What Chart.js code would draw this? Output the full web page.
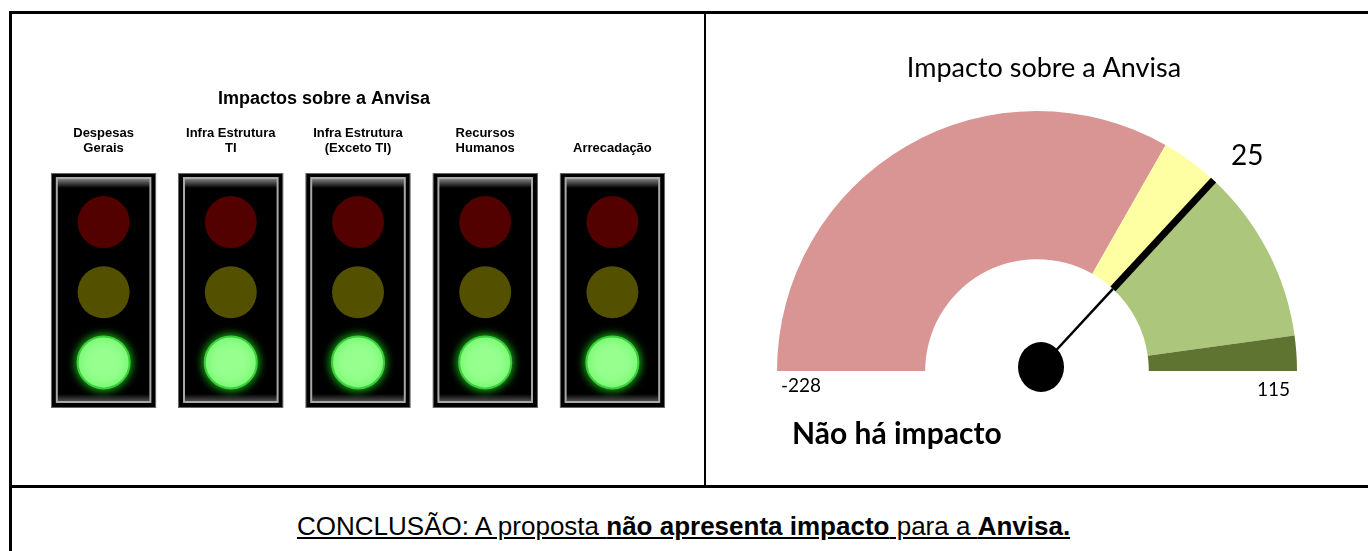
<!DOCTYPE html>
<html>
<head>
<meta charset="utf-8">
<script src="https://cdn.jsdelivr.net/npm/chart.js@4.4.0/dist/chart.umd.min.js"></script>
<style>
  body { margin: 0; background: #fff; width: 1368px; height: 551px; overflow: hidden; position: relative; font-family: "Liberation Sans", Arial, sans-serif; }
  .line { position: absolute; background: #000; }
  #lights { position: absolute; left: 12px; top: 14px; }
  #gauge { position: absolute; left: 706px; top: 13px; }
  #concl { position: absolute; left: 297px; top: 511px; font-size: 26px; line-height: 30px; white-space: nowrap; text-decoration: underline; }
</style>
</head>
<body>
<canvas id="lights" width="692" height="471"></canvas>
<canvas id="gauge" width="662" height="472"></canvas>
<div class="line" style="left:9px;top:11px;width:1359px;height:3px"></div>
<div class="line" style="left:9px;top:11px;width:3px;height:540px"></div>
<div class="line" style="left:704px;top:13px;width:2px;height:473px"></div>
<div class="line" style="left:9px;top:485px;width:1359px;height:3px"></div>
<div id="concl">CONCLUSÃO: A proposta <b>não apresenta impacto</b> para a <b>Anvisa.</b></div>

<script>
// semáforos
const panelTitle = 'Impactos sobre a Anvisa';
const areaLabels = [['Despesas', 'Gerais'], ['Infra Estrutura', 'TI'], ['Infra Estrutura', '(Exceto TI)'], ['Recursos', 'Humanos'], ['Arrecadação']];
const areaStatus = ['verde', 'verde', 'verde', 'verde', 'verde'];
const rowNames = ['verde', 'amarelo', 'vermelho']; // de baixo para cima

// medidor
const gaugeTitle = 'Impacto sobre a Anvisa';
const bandNames = ['Alto impacto', 'Impacto moderado', 'Sem impacto', 'Impacto positivo'];
const bandLimits = [-228, 0, 25, 100, 115];
const gaugeValue = 25;
const gaugeStatus = 'Não há impacto';

const lightOn = { vermelho: '#ff3030', amarelo: '#ffee33', verde: '#96ff8e' };
const lightOff = { vermelho: '#520000', amarelo: '#535000', verde: '#0d3b0d' };
const bandColors = ['#d99594', '#fefea3', '#acc67b', '#5e7430'];

const housingLow = -0.65, housingHigh = 2.70;

// one dataset of unlit lamps per row, plus one dataset with the lit lamp of each area
const offSets = rowNames.map((row, r) => ({
    type: 'line',
    showLine: false,
    data: areaStatus.map(st => (st === row ? null : r)),
    backgroundColor: lightOff[row],
    borderWidth: 0,
    pointRadius: 26,
    pointHoverRadius: 26,
    order: 2
}));

const onSet = {
    type: 'line',
    showLine: false,
    glow: true,
    data: areaStatus.map(st => rowNames.indexOf(st)),
    backgroundColor: areaStatus.map(st => lightOn[st]),
    borderColor: '#3ccf3c',
    borderWidth: 2,
    pointRadius: 26,
    pointHoverRadius: 26,
    order: 1
};

const lightsExtras = {
    id: 'lightsExtras',
    beforeDatasetDraw(chart, args) {
        const ds = chart.data.datasets[args.index];
        if (ds.glow) {
            chart.ctx.save();
            chart.ctx.shadowColor = '#22dd22';
            chart.ctx.shadowBlur = 10;
        }
    },
    afterDatasetDraw(chart, args) {
        const ctx = chart.ctx;
        const ds = chart.data.datasets[args.index];
        if (ds.glow) ctx.restore();
        if (ds.housing) {
            args.meta.data.forEach(bar => {
                const p = bar.getProps(['x', 'y', 'base', 'width'], true);
                const left = p.x - p.width / 2 + 6, right = p.x + p.width / 2 - 6;
                const top = Math.min(p.y, p.base) + 5, bottom = Math.max(p.y, p.base) - 6;
                ctx.save();
                let g = ctx.createLinearGradient(0, top, 0, top + 10);
                g.addColorStop(0, '#8c8c8c');
                g.addColorStop(1, '#000');
                ctx.fillStyle = g;
                ctx.fillRect(left, top, right - left, 10);
                g = ctx.createLinearGradient(0, bottom - 8, 0, bottom);
                g.addColorStop(0, '#000');
                g.addColorStop(1, '#555');
                ctx.fillStyle = g;
                ctx.fillRect(left, bottom - 8, right - left, 8);
                ctx.strokeStyle = '#a8a8a8';
                ctx.lineWidth = 2;
                ctx.strokeRect(left, top, right - left, bottom - top);
                ctx.restore();
            });
        }
    },
    afterDraw(chart) {
        const ctx = chart.ctx, xs = chart.scales.x;
        ctx.save();
        ctx.fillStyle = '#000';
        ctx.textAlign = 'center';
        ctx.textBaseline = 'middle';
        ctx.font = 'bold 18px "Liberation Sans", Arial, sans-serif';
        ctx.fillText(panelTitle, 312, 85);
        ctx.font = 'bold 13px "Liberation Sans", Arial, sans-serif';
        areaLabels.forEach((lines, i) => {
            const x = xs.getPixelForValue(i);
            lines.forEach((t, k) => ctx.fillText(t, x, 134.5 - (lines.length - 1 - k) * 15));
        });
        ctx.restore();
    }
};

new Chart(document.getElementById('lights'), {
    type: 'bar',
    data: {
        labels: areaLabels,
        datasets: [
            {
                housing: true,
                data: areaLabels.map(() => [housingLow, housingHigh]),
                backgroundColor: '#000',
                borderColor: '#666',
                borderWidth: 1,
                borderSkipped: false,
                barPercentage: 0.83,
                categoryPercentage: 1,
                order: 3
            },
            ...offSets,
            onSet
        ]
    },
    options: {
        responsive: false,
        animation: false,
        layout: { padding: { left: 20, right: 14, top: 159, bottom: 77 } },
        scales: {
            x: { display: false },
            y: { display: false, min: housingLow, max: housingHigh }
        },
        plugins: { legend: { display: false }, tooltip: { enabled: false } }
    },
    plugins: [lightsExtras]
});

const gaugeMin = bandLimits[0], gaugeMax = bandLimits[bandLimits.length - 1];
const bandSizes = bandLimits.slice(1).map((v, i) => v - bandLimits[i]);

const gaugeExtras = {
    id: 'gaugeExtras',
    afterDatasetsDraw(chart) {
        const ctx = chart.ctx;
        const arc = chart.getDatasetMeta(0).data[0];
        const cx = arc.x, cy = arc.y, rOut = arc.outerRadius, rIn = arc.innerRadius;
        const ang = -Math.PI + (gaugeValue - gaugeMin) / (gaugeMax - gaugeMin) * Math.PI;
        const c = Math.cos(ang), s = Math.sin(ang);
        ctx.save();
        ctx.strokeStyle = '#000';
        ctx.lineWidth = 7;
        ctx.beginPath();
        ctx.moveTo(cx + rIn * c, cy + rIn * s);
        ctx.lineTo(cx + rOut * c, cy + rOut * s);
        ctx.stroke();
        ctx.lineWidth = 2.5;
        ctx.beginPath();
        ctx.moveTo(cx, cy);
        ctx.lineTo(cx + rIn * c, cy + rIn * s);
        ctx.stroke();
        ctx.fillStyle = '#000';
        ctx.beginPath();
        ctx.ellipse(cx + 4, cy - 4, 23, 25, 0, 0, 2 * Math.PI);
        ctx.fill();

        ctx.textBaseline = 'alphabetic';
        ctx.textAlign = 'center';
        ctx.font = '27px Lato, sans-serif';
        ctx.fillText(gaugeTitle, 338, 63.5);
        ctx.textAlign = 'left';
        ctx.font = '28px Lato, sans-serif';
        ctx.fillText(String(gaugeValue), 525, 152);
        ctx.font = '19px Lato, sans-serif';
        ctx.fillText(String(gaugeMin), 75, 379);
        ctx.fillText(String(gaugeMax), 551, 383);
        ctx.font = 'bold 30px Lato, sans-serif';
        ctx.fillText(gaugeStatus, 86, 430.6);
        ctx.restore();
    }
};

new Chart(document.getElementById('gauge'), {
    type: 'doughnut',
    data: {
        labels: bandNames,
        datasets: [{ data: bandSizes, backgroundColor: bandColors, borderWidth: 0 }]
    },
    options: {
        responsive: false,
        animation: false,
        rotation: -90,
        circumference: 180,
        cutout: '43%',
        layout: { padding: { left: 71, right: 71, top: 98, bottom: 114 } },
        plugins: { legend: { display: false }, tooltip: { enabled: false } }
    },
    plugins: [gaugeExtras]
});
</script>
</body>
</html>
